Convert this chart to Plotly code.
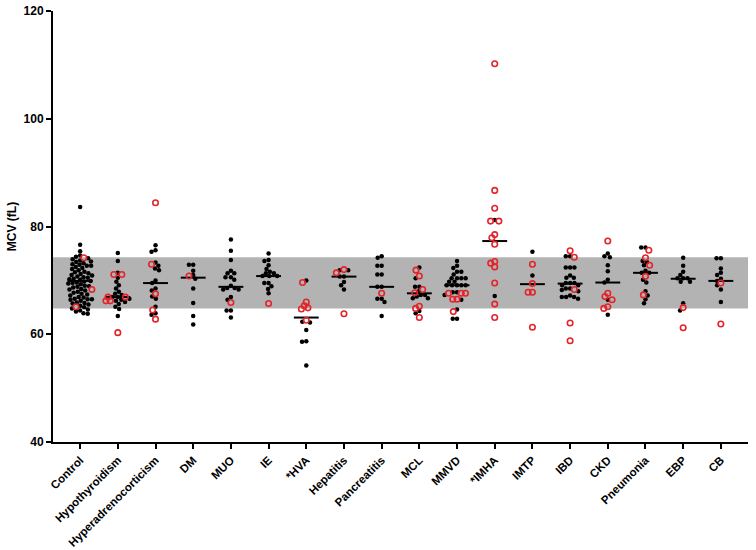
import numpy as np
import plotly.graph_objects as go

categories = ["Control", "Hypothyroidism", "Hyperadrenocorticism", "DM", "MUO", "IE",
              "*HVA", "Hepatitis", "Pancreatitis", "MCL", "MMVD", "*IMHA", "IMTP",
              "IBD", "CKD", "Pneumonia", "EBP", "CB"]

control_black = [83.6, 76.6, 75.4, 74.6, 74.1, 73.9, 73.7, 73.4, 73.2, 72.9, 72.7, 72.7,
                 72.3, 72.1, 71.9, 71.6, 71.5, 71.2, 71.0, 70.9, 70.6, 70.5, 70.2, 70.1,
                 69.9, 69.8, 69.6, 69.4, 69.3, 69.0, 68.8, 68.7, 68.4, 68.1, 67.9, 67.7,
                 67.4, 67.2, 66.9, 66.6, 66.5, 66.5, 66.4, 66.2, 65.9, 65.7, 65.5, 65.3,
                 65.0, 64.8, 64.6, 64.4, 64.2, 63.9, 63.8, 71.3, 72.5, 73.0, 70.7, 69.5,
                 68.3, 67.5, 66.8, 65.8, 68.9, 70.3, 73.5, 74.4]
control_red = [74.2, 68.3, 65.1]
hypo_black = [75.1, 73.6, 71.4, 70.5, 69.75, 69.1, 68.5, 67.9, 67.3, 66.9, 66.9, 66.6,
              66.4, 66.0, 65.6, 65.1, 64.7, 63.4, 67.5, 66.2]
hypo_red = [71.1, 71.1, 66.9, 66.9, 66.2, 66.2, 60.3]
hyper_black = [76.5, 75.6, 75.3, 73.3, 72.7, 72.2, 71.9, 70.0, 69.5, 68.5, 68.1, 67.0,
               66.6, 65.1, 63.9, 63.6]
hyper_red = [84.4, 73.0, 67.5, 64.5, 62.8]
dm_black = [72.9, 72.9, 71.8, 71.0, 70.3, 68.5, 65.8, 63.4, 61.8]
dm_red = [70.8]
muo_black = [77.6, 75.5, 73.8, 71.8, 71.3, 71.3, 70.6, 70.6, 70.1, 69.0, 68.6, 68.6,
             68.3, 68.3, 66.9, 66.4, 64.4, 64.4, 63.1]
muo_red = [65.9]
ie_black = [75.0, 73.8, 73.6, 72.8, 72.1, 71.6, 71.3, 71.3, 70.8, 70.8, 70.8, 69.5,
            69.5, 68.9, 68.4, 67.6]
ie_red = [65.7]
hva_black = [70.0, 62.2, 62.3, 60.8, 58.7, 58.6, 54.2]
hva_red = [69.6, 66.0, 65.3, 64.9, 64.7, 62.6]
hep_black = [71.9, 71.9, 70.7, 70.7, 69.7, 69.1, 68.3]
hep_red = [72.0, 71.4, 63.8]
panc_black = [74.2, 74.5, 72.7, 72.7, 71.1, 71.1, 68.8, 68.8, 66.6, 66.6, 66.0, 63.4]
panc_red = [67.6]
mcl_black = [72.4, 70.4, 68.8, 68.8, 68.0, 67.3, 67.3, 67.0, 66.7, 66.7, 64.3, 63.9]
mcl_red = [71.9, 70.8, 68.3, 67.7, 65.2, 64.8, 63.1]
mmvd_black = [73.6, 72.7, 72.3, 71.6, 71.6, 71.1, 70.4, 70.4, 70.4, 70.4, 69.75, 69.75,
              69.1, 69.1, 69.1, 69.1, 69.1, 67.8, 67.8, 67.3, 66.4, 64.6, 62.9, 62.9]
mmvd_red = [67.6, 67.6, 67.6, 66.5, 66.5, 64.2]
imha_black = [81.2, 67.1]
imha_red = [110.2, 86.7, 83.4, 81.0, 81.0, 78.5, 77.9, 76.7, 73.5, 73.2, 72.5, 69.5,
            65.6, 63.1]
imtp_black = [75.3, 70.9]
imtp_red = [73.0, 69.4, 67.8, 67.8, 61.3]
ibd_black = [74.5, 74.5, 72.4, 72.4, 72.4, 70.9, 70.5, 70.5, 69.5, 69.5, 69.5, 69.1,
             69.1, 68.5, 68.5, 68.2, 68.0, 67.2, 66.9, 66.9, 66.9, 66.6]
ibd_red = [75.5, 74.3, 68.3, 62.1, 58.8]
ckd_black = [75.0, 74.5, 74.3, 72.8, 71.7, 70.1, 69.6, 66.4, 63.6]
ckd_red = [77.3, 67.6, 67.0, 66.4, 65.1, 64.8]
pneu_black = [76.1, 76.1, 73.6, 73.4, 72.8, 71.8, 71.4, 71.4, 70.1, 69.6, 68.0, 67.2,
              66.5, 65.75]
pneu_red = [75.6, 74.2, 72.8, 70.75, 67.3]
ebp_black = [74.2, 72.7, 71.6, 71.0, 70.4, 70.4, 70.4, 69.75, 69.75, 65.75, 64.4]
ebp_red = [64.95, 61.2]
cb_black = [74.1, 74.1, 72.2, 71.4, 71.0, 70.3, 69.9, 69.1, 68.3, 66.0]
cb_red = [69.5, 61.9]

medians = [69.9, 66.9, 69.5, 70.5, 68.8, 70.8, 63.1, 70.7, 68.8, 67.6, 69.1, 77.3,
           69.3, 69.4, 69.6, 71.4, 70.3, 69.9]
ref_low, ref_high = 64.8, 74.3
y_ticks = [40, 60, 80, 100, 120]

black_groups = [control_black, hypo_black, hyper_black, dm_black, muo_black, ie_black,
                hva_black, hep_black, panc_black, mcl_black, mmvd_black, imha_black,
                imtp_black, ibd_black, ckd_black, pneu_black, ebp_black, cb_black]
red_groups = [control_red, hypo_red, hyper_red, dm_red, muo_red, ie_red, hva_red,
              hep_red, panc_red, mcl_red, mmvd_red, imha_red, imtp_red, ibd_red,
              ckd_red, pneu_red, ebp_red, cb_red]

# geometry used only to build a beeswarm layout
X_RANGE = [-0.72, 17.72]
Y_RANGE = [40, 120]
PLOT_W, PLOT_H = 695, 431
px_x = PLOT_W / (X_RANGE[1] - X_RANGE[0])
px_y = PLOT_H / (Y_RANGE[1] - Y_RANGE[0])
D = 4.3  # min distance between point centres (px)


def swarm(values):
    order = sorted(range(len(values)), key=lambda k: -values[k])
    placed = []
    offs = [0.0] * len(values)
    for k in order:
        yk = values[k] * px_y
        forb = []
        for (xj, yj) in placed:
            dy = abs(yk - yj)
            if dy < D:
                h = np.sqrt(D * D - dy * dy)
                forb.append((xj - h, xj + h))
        cands = [0.0] + [a for a, b in forb] + [b for a, b in forb]
        cands.sort(key=lambda c: (abs(c), c))
        best = 0.0
        for c in cands:
            if all(not (a + 1e-6 < c < b - 1e-6) for a, b in forb):
                best = c
                break
        offs[k] = best
        placed.append((best, yk))
    return [o / px_x for o in offs]


bx, by, rx, ry = [], [], [], []
for i in range(len(categories)):
    vals = list(black_groups[i]) + list(red_groups[i])
    offs = swarm(vals)
    nb = len(black_groups[i])
    for j, v in enumerate(vals):
        if j < nb:
            bx.append(i + offs[j]); by.append(v)
        else:
            rx.append(i + offs[j]); ry.append(v)

mx, my = [], []
for i, m in enumerate(medians):
    mx += [i - 0.33, i + 0.33, None]
    my += [m, m, None]

fig = go.Figure()
fig.add_shape(type="rect", xref="paper", x0=0, x1=1, yref="y", y0=ref_low, y1=ref_high,
              fillcolor="#b3b3b3", line=dict(width=0), layer="below")
fig.add_trace(go.Scatter(x=bx, y=by, mode="markers",
                         marker=dict(color="black", size=4.5, line=dict(width=0)),
                         showlegend=False))
fig.add_trace(go.Scatter(x=mx, y=my, mode="lines", line=dict(color="black", width=2),
                         showlegend=False))
fig.add_trace(go.Scatter(x=rx, y=ry, mode="markers",
                         marker=dict(symbol="circle-open", color="#e3242b", size=5.5,
                                     line=dict(width=1.6, color="#e3242b")),
                         showlegend=False))

font_fam = "Liberation Sans, Arial, sans-serif"
fig.update_layout(
    width=756, height=550,
    margin=dict(l=53, r=8, t=11, b=108),
    paper_bgcolor="white", plot_bgcolor="white",
    font=dict(family=font_fam, color="black"),
    xaxis=dict(range=X_RANGE, tickmode="array", tickvals=list(range(len(categories))),
               ticktext=categories, tickangle=-45, showgrid=False, zeroline=False,
               automargin=False, ticklabeloverflow="allow",
               showline=True, linecolor="black", linewidth=2, ticks="outside",
               ticklen=5, tickwidth=2, tickcolor="black",
               tickfont=dict(size=11.5, family=font_fam, weight="bold")),
    yaxis=dict(range=Y_RANGE, tickmode="array", tickvals=y_ticks, showgrid=False,
               zeroline=False, showline=True, linecolor="black", linewidth=2,
               automargin=False, ticklabeloverflow="allow",
               ticks="outside", ticklen=5, tickwidth=2, tickcolor="black",
               tickfont=dict(size=12, family=font_fam, weight="bold"),
               title=dict(text="MCV (fL)", standoff=4,
                          font=dict(size=12, family=font_fam, weight="bold"))),
)
fig.write_html("out.html", config={"displayModeBar": False},
               post_script="document.body.style.margin='0';document.body.style.overflow='hidden';")
